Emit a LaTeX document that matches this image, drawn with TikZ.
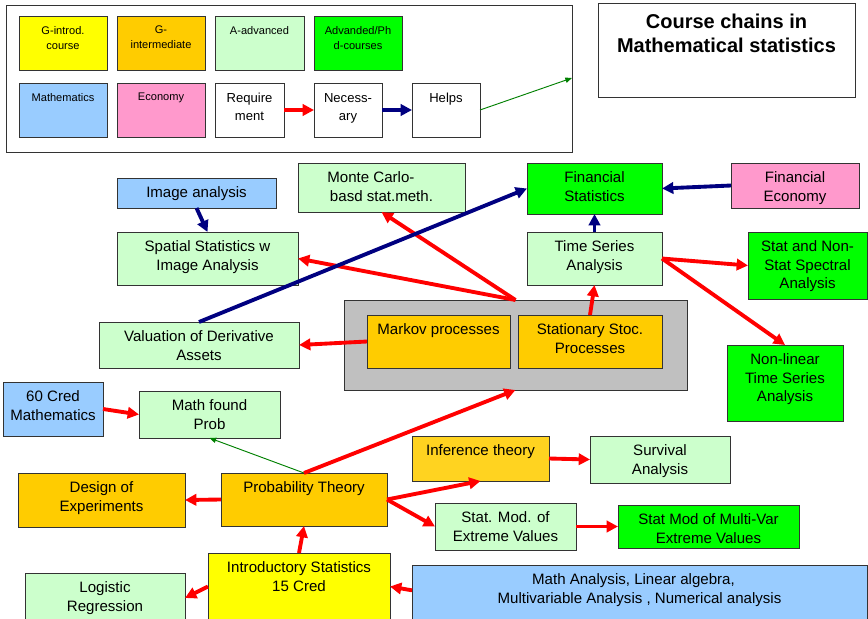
\documentclass[tikz,border=0pt]{standalone}
\usepackage{fontspec}
\setmainfont{Liberation Sans}
\usetikzlibrary{arrows.meta}
\definecolor{cyel}{HTML}{FFFF00}
\definecolor{corange}{HTML}{FFCC00}
\definecolor{cinf}{HTML}{FFD320}
\definecolor{cltgreen}{HTML}{CCFFCC}
\definecolor{cgreen}{HTML}{00FF00}
\definecolor{cblue}{HTML}{99CCFF}
\definecolor{cpink}{HTML}{FF99CC}
\definecolor{cgray}{HTML}{C0C0C0}
\definecolor{cred}{HTML}{FF0000}
\definecolor{cnavy}{HTML}{000080}
\definecolor{cdgreen}{HTML}{008000}
\newcommand\bx[8]{\node[box,#6,minimum width={(#4-#2)*0.75pt},minimum height={(#5-#3)*0.75pt},label={[#8]north:{#7}}] (#1) at ({(#2+#4)/2},{(#3+#5)/2}) {};}
\begin{document}
\begin{tikzpicture}[x=0.75pt,y=-0.75pt,
  box/.style={draw=black!80, line width=0.7pt, inner sep=0pt, outer sep=0pt},
  tl/.style={anchor=north, yshift=-6.6pt, inner sep=0pt, align=center, font=\fontsize{11.3}{13.8}\selectfont},
  ll/.style={anchor=north, yshift=-7.5pt, inner sep=0pt, align=center, font=\fontsize{8.3}{11.2}\selectfont},
  ml/.style={anchor=north, yshift=-7.5pt, inner sep=0pt, align=center, font=\fontsize{9.8}{13.5}\selectfont},
  ttl/.style={anchor=north, yshift=-8pt, inner sep=0pt, align=center, font=\bfseries\fontsize{15}{18}\selectfont},
  ra/.style={draw=cred, line width=2.9pt, -{Triangle[length=8.5pt,width=8.5pt]}},
  ba/.style={draw=cnavy, line width=2.9pt, -{Triangle[length=8.5pt,width=8.5pt]}},
  ga/.style={draw=cdgreen, line width=0.7pt, -{Triangle[length=5pt,width=4pt]}}]
\useasboundingbox (0,0) rectangle (868,618);
\clip (0,0) rectangle (868,618);
% legend
\bx{legend}{6}{5}{572}{152}{fill=white}{}{ll}
\bx{lgi}{19}{16}{107}{70}{fill=cyel}{G-introd.\\course}{ll}
\bx{lgm}{117}{16}{205}{70}{fill=corange}{G-\\intermediate}{ll}
\bx{lad}{215}{16}{304}{70}{fill=cltgreen}{A-advanced}{ll}
\bx{lphd}{314}{16}{402}{70}{fill=cgreen}{Advanded/Ph\\d-courses}{ll}
\bx{lmat}{19}{83}{107}{137}{fill=cblue}{Mathematics}{ll}
\bx{leco}{117}{83}{205}{137}{fill=cpink}{Economy}{ll}
\bx{lreq}{215}{83}{284}{137}{fill=white}{Require\\ment}{ml}
\bx{lnec}{314}{83}{382}{137}{fill=white}{Necess-\\ary}{ml}
\bx{lhelp}{412}{83}{480}{137}{fill=white}{Helps}{ml}
\coordinate (gend) at (572,78);
\draw[ra] (lreq.east) -- (lnec.west);
\draw[ba] (lnec.east) -- (lhelp.west);
\draw[ga] (lhelp.east) -- (gend);
% title
\bx{title}{598}{3}{855}{97}{fill=white}{Course chains in\\Mathematical statistics}{ttl}
% main boxes
\bx{img}{117}{178}{276}{208}{fill=cblue}{Image analysis}{tl}
\bx{spat}{117}{232}{298}{285}{fill=cltgreen}{Spatial Statistics w\\Image Analysis}{tl}
\bx{monte}{298}{163}{465}{212}{fill=cltgreen}{Monte Carlo-\hspace*{1.4em}\\basd stat.meth.}{tl}
\bx{fin}{527}{163}{662}{214}{fill=cgreen}{Financial\\Statistics}{tl}
\bx{fe}{731}{163}{859}{208}{fill=cpink}{Financial\\Economy}{tl}
\bx{ts}{527}{232}{662}{285}{fill=cltgreen}{Time Series\\Analysis}{tl}
\bx{spec}{748}{232}{867}{299}{fill=cgreen}{Stat and Non-\\Stat Spectral\\Analysis}{tl}
\bx{grayb}{344}{300}{687}{390}{fill=cgray}{}{tl}
\bx{markov}{367}{315}{510}{368}{fill=corange}{Markov processes}{tl}
\bx{stat}{518}{315}{662}{368}{fill=corange}{Stationary Stoc.\\Processes}{tl}
\bx{val}{99}{322}{299}{368}{fill=cltgreen}{Valuation of Derivative\\Assets}{tl}
\bx{nonlin}{727}{345}{843}{421}{fill=cgreen}{Non-linear\\Time Series\\Analysis}{tl}
\bx{cred}{3}{382}{103}{436}{fill=cblue}{60 Cred\\Mathematics}{tl}
\bx{mfp}{139}{391}{280}{438}{fill=cltgreen}{Math found\\Prob}{tl}
\bx{inf}{412}{436}{549}{481}{fill=cinf}{Inference theory}{tl}
\bx{surv}{590}{436}{730}{483}{fill=cltgreen}{Survival\\Analysis}{tl}
\bx{prob}{221}{473}{387}{526}{fill=corange}{Probability Theory}{tl}
\bx{doe}{18}{473}{185}{527}{fill=corange}{Design of\\Experiments}{tl}
\bx{smev}{435}{503}{576}{550}{fill=cltgreen}{Stat. Mod. of\\Extreme Values}{tl}
\bx{mv}{618}{505}{799}{548}{fill=cgreen}{Stat Mod of Multi-Var\\Extreme Values}{tl}
\bx{intro}{208}{553}{390}{620}{fill=cyel}{Introductory Statistics\\15 Cred}{tl}
\bx{logi}{25}{573}{185}{623}{fill=cltgreen}{Logistic\\Regression}{tl}
\bx{man}{412}{565}{867}{625}{fill=cblue}{Math Analysis, Linear algebra,\hspace*{0.8em}\\Multivariable Analysis , Numerical analysis}{tl}
% connectors
\draw[ra] (markov.west) -- (val.east);
\draw[ra] (grayb.north) -- (spat.east);
\draw[ra] (grayb.north) -- (monte.south);
\draw[ba] (val.north) -- (fin.west);
\draw[ba] (img.south) -- (spat.north);
\draw[ra] (stat.north) -- (ts.south);
\draw[ba] (ts.north) -- (fin.south);
\draw[ba] (fe.west) -- (fin.east);
\draw[ra] (ts.east) -- (spec.west);
\draw[ra] (ts.east) -- (nonlin.north);
\draw[ra] (cred.east) -- (mfp.west);
\draw[ga] (prob.north) -- (mfp.south);
\draw[ra] (prob.north) -- (grayb.south);
\draw[ra] (prob.east) -- (inf.south);
\draw[ra] (prob.east) -- (smev.west);
\draw[ra] (prob.west) -- (doe.east);
\draw[ra] (inf.east) -- (surv.west);
\draw[ra] (smev.east) -- (mv.west);
\draw[ra] (intro.north) -- (prob.south);
\draw[ra] (intro.west) -- (logi.east);
\draw[ra] ([yshift=3.5pt]man.west) -- (intro.east);
\end{tikzpicture}
\end{document}
